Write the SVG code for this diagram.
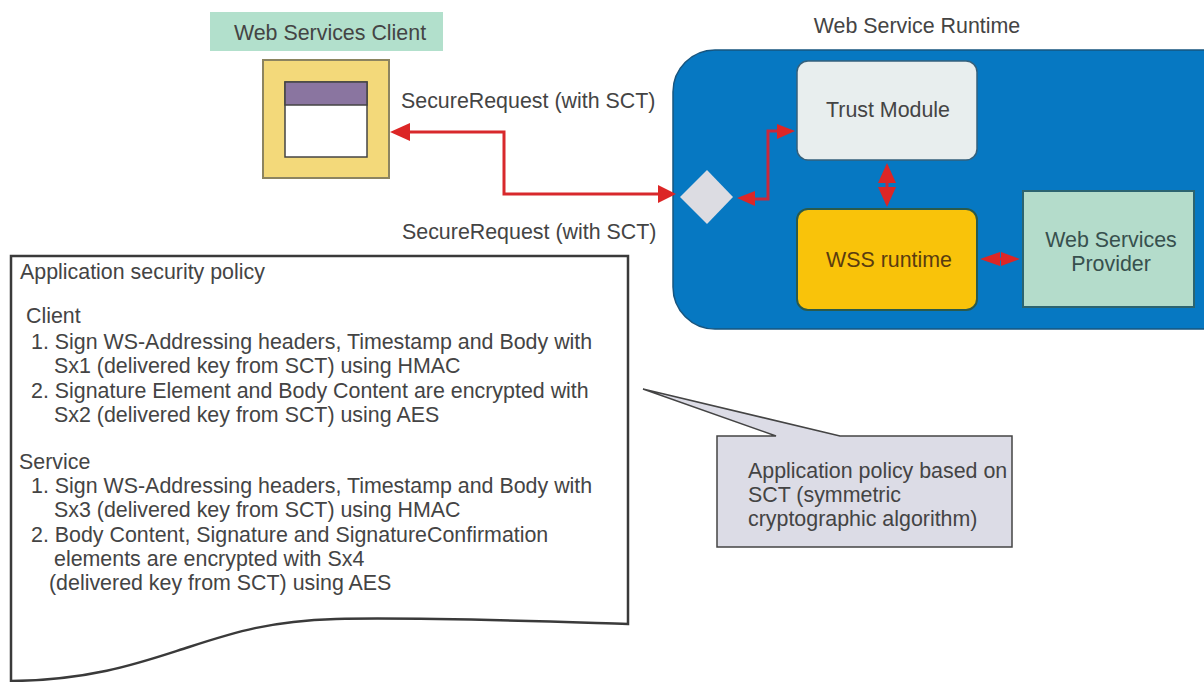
<svg xmlns="http://www.w3.org/2000/svg" width="1204" height="682" viewBox="0 0 1204 682">
<style>
text{font-family:"Liberation Sans",Arial,sans-serif;font-size:21.4px;fill:#444}
.c{stroke:#d8282c;stroke-width:3;fill:none}
.ci{stroke:#c8283c;stroke-width:3;fill:none}
.h{fill:#dc2626}
</style>
<rect width="1204" height="682" fill="#fff"/>
<g id="client-label"><rect x="210" y="12" width="233" height="39" fill="#b2e0cc"/><text x="330" y="40" text-anchor="middle">Web Services Client</text></g>
<g id="client"><rect x="263" y="60" width="126" height="118" fill="#f3d97a" stroke="#8c8460" stroke-width="2"/><rect x="285" y="82" width="82" height="75" fill="#fff" stroke="#444" stroke-width="1.5"/><rect x="285" y="82" width="82" height="23" fill="#8a75a0" stroke="#444" stroke-width="1.5"/></g>
<g id="runtime"><path d="M1206 329H715a42 42 0 0 1-42-42V92a42 42 0 0 1 42-42H1206Z" fill="#0678c2" stroke="#17557f" stroke-width="1.5"/><text x="917" y="33" text-anchor="middle">Web Service Runtime</text></g>
<g id="trust"><rect x="797" y="61" width="180" height="99" rx="11" fill="#e8eeee" stroke="#34607c" stroke-width="1.5"/><text x="888" y="117" text-anchor="middle">Trust Module</text></g>
<g id="wss"><rect x="797" y="209" width="180" height="101" rx="11" fill="#f9c30a" stroke="#2b5a4b" stroke-width="2"/><text x="889" y="267" text-anchor="middle" style="fill:#5a3c10">WSS runtime</text></g>
<g id="provider"><rect x="1023" y="191" width="171" height="116" fill="#b4dccb" stroke="#2c6470" stroke-width="2"/><text x="1111" y="247" text-anchor="middle" style="fill:#37504e">Web Services</text><text x="1111" y="271" text-anchor="middle" style="fill:#37504e">Provider</text></g>
<g id="gateway"><path d="M707 170L733 197L707 224L680 197Z" fill="#dcdce2"/></g>
<g id="connectors">
<path class="c" d="M405 132H504V194H660"/>
<path class="h" d="M390 132L410 123V141Z"/>
<path class="h" d="M676 194L658 185V203Z"/>
<path class="ci" d="M748 199H768V131H782"/>
<path class="h" d="M737 198L755 191V206Z"/>
<path class="h" d="M795 131L777 124V139Z"/>
<path class="ci" d="M887 175V195"/>
<path class="h" d="M887 163L878 183H896Z"/>
<path class="h" d="M887 207L878 187H896Z"/>
<path class="ci" d="M990 259H1010"/>
<path class="h" d="M980 259L1000 252V266Z"/>
<path class="h" d="M1020 259L1001 252V266Z"/>
</g>
<g id="label-top"><text x="401" y="108">SecureRequest (with SCT)</text></g>
<g id="label-bottom"><text x="402" y="239">SecureRequest (with SCT)</text></g>
<g id="policy">
<path d="M11 256H628V624C530 621 420 617 336 619C270 621 235 632 189 647C145 661 95 680 11 681Z" fill="#fff" stroke="#3a3a3a" stroke-width="2.5"/>
<text x="20" y="279">Application security policy</text>
<text x="26" y="323">Client</text>
<text x="31" y="349">1. Sign WS-Addressing headers, Timestamp and Body with</text>
<text x="54" y="373">Sx1 (delivered key from SCT) using HMAC</text>
<text x="31" y="398">2. Signature Element and Body Content are encrypted with</text>
<text x="54" y="422">Sx2 (delivered key from SCT) using AES</text>
<text x="19" y="469">Service</text>
<text x="31" y="493">1. Sign WS-Addressing headers, Timestamp and Body with</text>
<text x="54" y="517">Sx3 (delivered key from SCT) using HMAC</text>
<text x="31" y="542">2. Body Content, Signature and SignatureConfirmation</text>
<text x="54" y="566">elements are encrypted with Sx4</text>
<text x="49" y="590">(delivered key from SCT) using AES</text>
</g>
<g id="callout">
<path d="M643 389L840 436H1012V547H717V436H776Z" fill="#dcdce6" stroke="#444" stroke-width="1.5"/>
<text x="748" y="478">Application policy based on</text>
<text x="748" y="502">SCT (symmetric</text>
<text x="748" y="526">cryptographic algorithm)</text>
</g>
</svg>
